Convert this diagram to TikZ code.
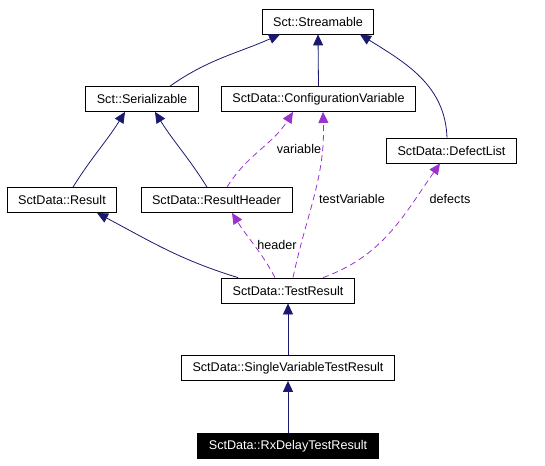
\documentclass[tikz,border=0pt]{standalone}
\usepackage{fontspec}
\setmainfont{Liberation Sans}
\usepackage{tikz}
\usetikzlibrary{arrows.meta,positioning,calc}
\usepackage{xcolor}
\definecolor{inhblue}{RGB}{25,25,112}
\definecolor{usepurple}{RGB}{154,50,205}

\begin{document}
\begin{tikzpicture}[x=1pt,y=-1pt,
        cls/.style={draw=black,line width=0.8pt,fill=white,minimum height=25pt,inner xsep=11pt,inner ysep=0pt,font=\fontsize{12.6}{15}\selectfont},
        inherit/.style={draw=inhblue,line width=0.8pt,-{Triangle[length=11pt,width=10pt]}},
        usage/.style={draw=usepurple,line width=0.8pt,dash pattern=on 6pt off 4pt,-{Triangle[length=11pt,width=10pt]}},
        lbl/.style={font=\fontsize{12.6}{15}\selectfont,inner sep=1pt}]
        \useasboundingbox (0,0) rectangle (545,465);

        % classes
        \node[cls] (streamable) at (318,21.5) {Sct::Streamable};
        \node[cls] (serializable) at (142,99) {Sct::Serializable};
        \node[cls] (confvar) at (318.5,99) {SctData::ConfigurationVariable};
        \node[cls] (defectlist) at (451.5,150.5) {SctData::DefectList};
        \node[cls] (result) at (62,200) {SctData::Result};
        \node[cls] (resheader) at (216.5,200) {SctData::ResultHeader};
        \node[cls] (testresult) at (288,290.5) {SctData::TestResult};
        \node[cls] (singlevar) at (288,368) {SctData::SingleVariableTestResult};
        \node[cls,fill=black,text=white] (rxdelay) at (288,446) {SctData::RxDelayTestResult};

        % inheritance
        \draw[inherit] ([xshift=28pt]serializable.north) to[out=35,in=-156] ([xshift=-38pt]streamable.south);
        \draw[inherit] (confvar.north) -- (streamable.south);
        \draw[inherit] ([xshift=-4.5pt]defectlist.north) to[out=92,in=-32] ([xshift=42pt]streamable.south);
        \draw[inherit] ([xshift=11pt]result.north) to[out=58,in=-122] ([xshift=-17pt]serializable.south);
        \draw[inherit] ([xshift=-9.5pt]resheader.north) to[out=122,in=-58] ([xshift=13pt]serializable.south);
        \draw[inherit] ([xshift=-50pt]testresult.north) to[out=163,in=-28] ([xshift=35pt]result.south);
        \draw[inherit] (singlevar.north) -- (testresult.south);
        \draw[inherit] (rxdelay.north) -- (singlevar.south);

        % usage
        \draw[usage] ([xshift=10.5pt]resheader.north) to[out=58,in=-122] ([xshift=-25.5pt]confvar.south);
        \draw[usage] ([xshift=5pt]testresult.north) to[out=78,in=-88] ([xshift=4.5pt]confvar.south);
        \draw[usage] ([xshift=-13pt]testresult.north) to[out=118,in=-58] ([xshift=15.5pt]resheader.south);
        \draw[usage] ([xshift=35pt]testresult.north) to[out=20,in=-125] ([xshift=-11.5pt]defectlist.south);

        % labels
        \node[lbl] (lvariable) at (299,149) {variable};
        \node[lbl] (ltestvar) at (352,199) {testVariable};
        \node[lbl] (ldefects) at (450,199) {defects};
        \node[lbl] (lheader) at (277,245) {header};
    \end{tikzpicture}
\end{document}
